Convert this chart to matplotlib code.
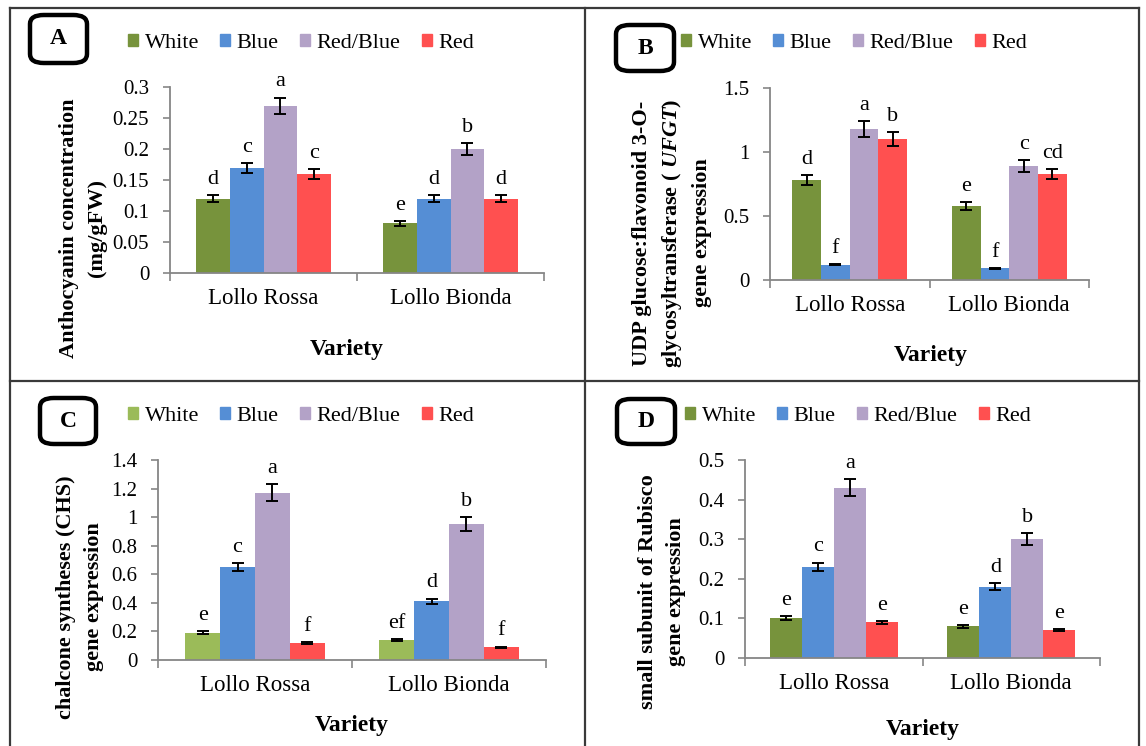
import matplotlib
matplotlib.use("Agg")
import matplotlib.pyplot as plt
import numpy as np
from matplotlib.patches import FancyBboxPatch
from matplotlib.lines import Line2D
from matplotlib.ticker import FuncFormatter

plt.rcParams["font.family"] = ["Liberation Serif", "DejaVu Serif"]
plt.rcParams["mathtext.fontset"] = "custom"
plt.rcParams["mathtext.it"] = "Liberation Serif:italic:bold"
plt.rcParams["mathtext.rm"] = "Liberation Serif:bold"

W, H = 1146, 746

varieties = ["Lollo Rossa", "Lollo Bionda"]
treatments = ["White", "Blue", "Red/Blue", "Red"]

# panel A: anthocyanin (mg/gFW)
a_vals = [[0.12, 0.17, 0.27, 0.16], [0.08, 0.12, 0.20, 0.12]]
a_err = [[0.006, 0.008, 0.013, 0.008], [0.004, 0.006, 0.010, 0.006]]
a_let = [["d", "c", "a", "c"], ["e", "d", "b", "d"]]
a_ticks = [0, 0.05, 0.1, 0.15, 0.2, 0.25, 0.3]

# panel B: UFGT
b_vals = [[0.78, 0.12, 1.18, 1.10], [0.58, 0.09, 0.89, 0.83]]
b_err = [[0.04, 0.005, 0.06, 0.055], [0.03, 0.004, 0.045, 0.04]]
b_let = [["d", "f", "a", "b"], ["e", "f", "c", "cd"]]
b_ticks = [0, 0.5, 1, 1.5]

# panel C: CHS
c_vals = [[0.19, 0.65, 1.17, 0.12], [0.14, 0.41, 0.95, 0.09]]
c_err = [[0.01, 0.03, 0.06, 0.005], [0.007, 0.02, 0.05, 0.004]]
c_let = [["e", "c", "a", "f"], ["ef", "d", "b", "f"]]
c_ticks = [0, 0.2, 0.4, 0.6, 0.8, 1, 1.2, 1.4]

# panel D: Rubisco small subunit
d_vals = [[0.10, 0.23, 0.43, 0.09], [0.08, 0.18, 0.30, 0.07]]
d_err = [[0.005, 0.011, 0.021, 0.004], [0.004, 0.009, 0.015, 0.003]]
d_let = [["e", "c", "a", "e"], ["e", "d", "b", "e"]]
d_ticks = [0, 0.1, 0.2, 0.3, 0.4, 0.5]

COLORS = ["#77933C", "#558ED5", "#B3A2C7", "#FF5050"]
COLORS_C = ["#9BBB59", "#558ED5", "#B3A2C7", "#FF5050"]

fig = plt.figure(figsize=(W / 100, H / 100), dpi=100)


def fx(px):
    return px / W


def fy(py):
    return 1 - py / H


def make_axes(l, r, t, b):
    return fig.add_axes([fx(l), fy(b), fx(r - l), (b - t) / H])


def panel(ax, vals, errs, lets, ticks, colors):
    vals = np.array(vals)
    errs = np.array(errs)
    x = np.arange(len(varieties))
    w = 0.18
    for i in range(len(treatments)):
        xs = x + (i - 1.5) * w
        ax.bar(xs, vals[:, i], w, color=colors[i], zorder=2)
        ax.errorbar(xs, vals[:, i], yerr=errs[:, i], fmt="none", ecolor="black",
                    elinewidth=1.4, capsize=4, capthick=1.4, zorder=3)
        for j in range(len(varieties)):
            ax.annotate(lets[j][i], (xs[j], vals[j, i] + errs[j, i]),
                        xytext=(0, 8), textcoords="offset points",
                        ha="center", va="baseline", fontsize=16)
    ax.set_xlim(-0.5, 1.5)
    ax.set_ylim(0, ticks[-1])
    ax.set_yticks(ticks)
    ax.yaxis.set_major_formatter(FuncFormatter(lambda v, p: f"{v:g}"))
    ax.set_xticks(x)
    ax.set_xticklabels(varieties, fontsize=16.5)
    ax.set_xticks([-0.5, 0.5, 1.5], minor=True)
    ax.tick_params(axis="x", which="major", length=0, pad=11)
    ax.tick_params(axis="x", which="minor", length=6, color="#868686", width=1.2)
    ax.tick_params(axis="y", length=5, color="#868686", width=1.2, labelsize=15, pad=10)
    for s in ["top", "right"]:
        ax.spines[s].set_visible(False)
    for s in ["left", "bottom"]:
        ax.spines[s].set_color("#868686")
        ax.spines[s].set_linewidth(1.3)
    ax.set_facecolor("none")


def legend_at(x, y, colors):
    handles = [plt.Rectangle((0, 0), 1, 1, color=c) for c in colors]
    fig.legend(handles, treatments, loc="center left", bbox_to_anchor=(fx(x), fy(y)),
               ncol=4, frameon=False, fontsize=16, handlelength=0.45, handleheight=0.45,
               handletextpad=0.3, columnspacing=0.95, borderpad=0, borderaxespad=0)


def box_label(l, t, r, b, txt):
    p = FancyBboxPatch((fx(l), fy(b)), fx(r - l), (b - t) / H,
                       boxstyle="round,pad=0,rounding_size=0.012",
                       transform=fig.transFigure, fill=False, lw=3.2, ec="black")
    fig.patches.append(p)
    fig.text(fx((l + r) / 2), fy((t + b) / 2), txt, ha="center", va="center",
             fontsize=17, fontweight="bold")


def ylabel(x, y, txt):
    fig.text(fx(x), fy(y), txt, rotation=90, ha="center", va="center",
             fontsize=16, fontweight="bold", linespacing=1.5, multialignment="center")


def xlabel(x, y):
    fig.text(fx(x), fy(y), "Variety", ha="center", va="center",
             fontsize=17, fontweight="bold")


axA = make_axes(170, 544, 87, 273)
panel(axA, a_vals, a_err, a_let, a_ticks, COLORS)
axB = make_axes(770, 1089, 88, 280)
panel(axB, b_vals, b_err, b_let, b_ticks, COLORS)
axC = make_axes(158, 546, 460, 660)
panel(axC, c_vals, c_err, c_let, c_ticks, COLORS_C)
axD = make_axes(745, 1100, 460, 658)
panel(axD, d_vals, d_err, d_let, d_ticks, COLORS)

legend_at(128, 43, COLORS)
legend_at(681, 43, COLORS)
legend_at(128, 416, COLORS_C)
legend_at(685, 416, COLORS)

box_label(30, 15, 87, 63, "A")
box_label(616, 25, 674, 71, "B")
box_label(40, 398, 96, 444, "C")
box_label(617, 399, 675, 444, "D")

xlabel(347, 350)
xlabel(931, 355)
xlabel(352, 725)
xlabel(923, 730)

ylabel(83, 228, "Anthocyanin concentration\n(mg/gFW)")
ylabel(672, 233, "UDP glucose:flavonoid 3-O-\nglycosyltransferase ( $\\mathit{UFGT}$)\ngene expression")
ylabel(80, 597, "chalcone syntheses (CHS)\ngene expression")
ylabel(662, 592, "small subunit of Rubisco\ngene expression")

# panel frame lines
lc = "#3a3a3a"
for (x0, y0, x1, y1) in [(10, 8, 1139, 8), (10, 8, 10, 746), (1139, 8, 1139, 746),
                         (585, 8, 585, 746), (10, 381, 1139, 381)]:
    fig.add_artist(Line2D([fx(x0), fx(x1)], [fy(y0), fy(y1)], color=lc, lw=1.6,
                          transform=fig.transFigure))

fig.savefig("out.png", dpi=100)
